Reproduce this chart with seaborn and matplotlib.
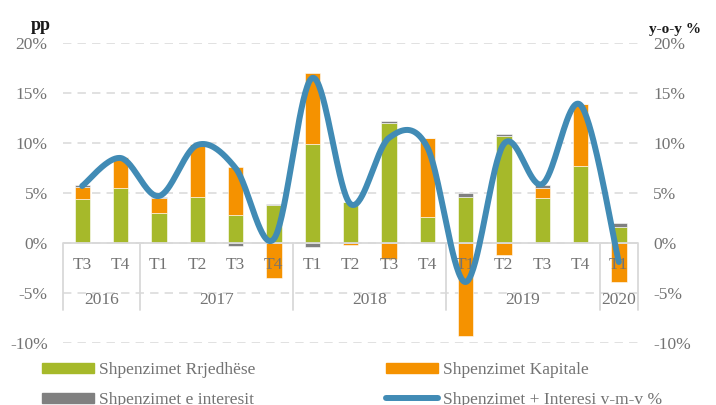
import matplotlib
matplotlib.use("Agg")
import matplotlib.pyplot as plt
from matplotlib.patches import Patch
from matplotlib.lines import Line2D
import seaborn as sns
import numpy as np
import pandas as pd

# quarters T3 2016 .. T1 2020
quarters = ["T3", "T4", "T1", "T2", "T3", "T4", "T1", "T2", "T3", "T4", "T1", "T2", "T3", "T4", "T1"]
years = ["2016", "2017", "2018", "2019", "2020"]
year_counts = [2, 4, 4, 4, 1]

# contributions in pp
rrjedhese = [4.4, 5.5, 3.0, 4.6, 2.8, 3.8, 9.9, 4.1, 12.0, 2.6, 4.6, 10.7, 4.5, 7.7, 1.6]
kapitale = [1.2, 3.1, 1.5, 5.3, 4.8, -3.5, 7.1, -0.15, -1.6, 7.9, -9.3, -1.2, 1.0, 6.2, -3.9]
interesi = [0.2, 0.05, 0.1, 0.0, -0.3, 0.15, -0.35, 0.0, 0.2, 0.05, 0.45, 0.2, 0.3, 0.05, 0.4]
# y-o-y growth, %
yoy = [5.7, 8.5, 4.7, 9.8, 7.5, 0.4, 16.5, 3.9, 10.5, 9.6, -3.9, 9.9, 5.9, 13.8, -1.9]

GREEN = "#A6B92A"
ORANGE = "#F59200"
GREY = "#808080"
BLUE = "#418BB5"
TXT = "#737373"
GRID = "#D9D9D9"

sns.set_theme(style="white")
plt.rcParams["font.family"] = ["Liberation Serif", "DejaVu Serif"]


def smooth(xs, ys, n=40):
    # excel-like smoothed line (catmull-rom bezier)
    xs = np.asarray(xs, float)
    ys = np.asarray(ys, float)
    px = np.concatenate([[xs[0]], xs, [xs[-1]]])
    py = np.concatenate([[ys[0]], ys, [ys[-1]]])
    out_x, out_y = [], []
    t = np.linspace(0, 1, n)
    for i in range(1, len(px) - 2):
        p0 = np.array([px[i], py[i]])
        p3 = np.array([px[i + 1], py[i + 1]])
        c1 = p0 + (np.array([px[i + 1], py[i + 1]]) - np.array([px[i - 1], py[i - 1]])) / 6
        c2 = p3 - (np.array([px[i + 2], py[i + 2]]) - np.array([px[i], py[i]])) / 6
        b = ((1 - t) ** 3)[:, None] * p0 + (3 * (1 - t) ** 2 * t)[:, None] * c1 \
            + (3 * (1 - t) * t ** 2)[:, None] * c2 + (t ** 3)[:, None] * p3
        out_x.extend(b[:, 0])
        out_y.extend(b[:, 1])
    return np.array(out_x), np.array(out_y)


fig, ax = plt.subplots(figsize=(7.16, 4.05), dpi=100)
fig.subplots_adjust(left=63 / 716, right=638 / 716, top=1 - 43 / 405, bottom=1 - 343 / 405)

pos = np.arange(len(quarters))
df = pd.DataFrame({"pos": pos, "Rrjedhese": rrjedhese, "Kapitale": kapitale, "Interesi": interesi})

# stacked bars, positives up and negatives down
up = np.zeros(len(df))
down = np.zeros(len(df))
for col, colr in [("Rrjedhese", GREEN), ("Kapitale", ORANGE), ("Interesi", GREY)]:
    v = df[col].to_numpy()
    bottom = np.where(v >= 0, up, down)
    sns.barplot(x=df["pos"], y=v, bottom=bottom, color=colr, saturation=1, width=0.4,
                errorbar=None, ax=ax, edgecolor="white", linewidth=0.4, zorder=3)
    up = up + np.where(v >= 0, v, 0)
    down = down + np.where(v < 0, v, 0)

sx, sy = smooth(pos, yoy)
sns.lineplot(x=sx, y=sy, sort=False, estimator=None, color=BLUE, lw=4.3, ax=ax,
             solid_capstyle="round", zorder=5)

ax.set_xlim(-0.5, len(quarters) - 0.5)
ax.set_ylim(-10, 20)
ax.set_yticks(range(-10, 21, 5))
ax.set_yticklabels([f"{v}%" for v in range(-10, 21, 5)])
ax.set_xticks([])
ax.set_xlabel("")
ax.set_ylabel("")
for s in ax.spines.values():
    s.set_visible(False)
ax.tick_params(axis="y", length=0, pad=11, labelsize=12.5, labelcolor=TXT,
               labelleft=True, labelright=True)
ax.yaxis.grid(True, color=GRID, lw=1.1, linestyle=(0, (5.5, 4)), zorder=0)
ax.set_axisbelow(True)

# category axis at zero
ax.axhline(0, color=GRID, lw=1.3, zorder=4)
for i, q in enumerate(quarters):
    ax.text(i, -2.2, q, ha="center", va="center", fontsize=12.5, color=TXT, zorder=4)
start = 0
seps = [-0.5]
for y, c in zip(years, year_counts):
    ax.text(start + (c - 1) / 2, -5.7, y, ha="center", va="center", fontsize=12.5, color=TXT, zorder=4)
    start += c
    seps.append(start - 0.5)
for s in seps:
    ax.plot([s, s], [0, -6.7], color=GRID, lw=1.3, zorder=4, clip_on=False)

fig.text(41 / 716, 1 - 26 / 405, "pp", ha="center", va="center", fontsize=13, fontweight="bold", color="#1a1a1a")
fig.text(675 / 716, 1 - 30 / 405, "y-o-y %", ha="center", va="center", fontsize=11, fontweight="bold", color="#1a1a1a")

h1 = [Patch(color=GREEN, label="Shpenzimet Rrjedhëse"), Patch(color=GREY, label="Shpenzimet e interesit")]
h2 = [Patch(color=ORANGE, label="Shpenzimet Kapitale"),
      Line2D([], [], color=BLUE, lw=4.3, solid_capstyle="round", label="Shpenzimet + Interesi v-m-v %")]
for hs, x0 in [(h1, 42 / 716), (h2, 386 / 716)]:
    leg = fig.legend(handles=hs, loc="upper left", bbox_to_anchor=(x0, 1 - 362 / 405), frameon=False,
                     fontsize=12.5, handlelength=3.0, handleheight=0.5, handletextpad=0.3,
                     labelspacing=0.8, borderpad=0, borderaxespad=0, labelcolor=TXT)

fig.savefig("out.png", dpi=100)
